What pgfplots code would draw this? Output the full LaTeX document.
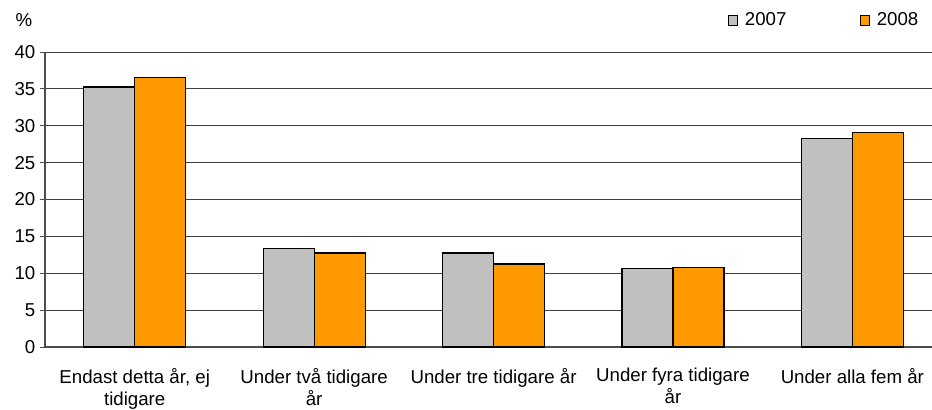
\documentclass[border=0pt]{standalone}
\usepackage{pgfplots}
\pgfplotsset{compat=1.18}
\usepackage{fontspec}
\setmainfont{Liberation Sans}
\definecolor{cgray}{RGB}{192,192,192}
\definecolor{corange}{RGB}{255,153,0}
\begin{document}
\begin{tikzpicture}[x=0.75pt,y=0.75pt]
\path[use as bounding box] (0,0) rectangle (932,410);
\begin{axis}[
  at={(45*0.75pt,63*0.75pt)}, anchor=south west,
  scale only axis, width=887*0.75pt, height=295*0.75pt,
  xmin=-0.5, xmax=4.444, ymin=0, ymax=40,
  axis x line*=bottom, axis y line*=left,
  axis line style={black!70, line width=0.8pt},
  ytick={0,5,...,40},
  ymajorgrids, grid style={black!75, line width=0.6pt},
  tick align=outside, major tick length=5*0.75pt,
  tick style={black!70, line width=0.6pt},
  xtick={0,...,4}, xticklabels={{Endast detta år, ej\\tidigare},{Under två tidigare\\år},{Under tre tidigare år},{Under fyra tidigare\\år},{Under alla fem år}},
  x tick style={draw=none},
  extra x ticks={0.5,1.5,2.5,3.5}, extra x tick labels={},
  extra x tick style={tick style={draw=black!70, line width=0.6pt}, grid=none},
  xticklabel style={align=center, font=\fontsize{14}{16.5}\selectfont, yshift=-8.5pt},
  yticklabel style={font=\fontsize{14}{16}\selectfont},
  /pgf/number format/assume math mode=true,
  ybar, bar width=51*0.75pt,
  legend columns=2,
  legend style={draw=none, fill=none, at={(0.765,1.108)}, anchor=west, font=\fontsize{14}{16}\selectfont,
    /tikz/every odd column/.append style={column sep=3pt},
    /tikz/every even column/.append style={column sep=53pt}},
  legend image code/.code={\draw[#1, line width=0.6pt] (0pt,-3.6pt) rectangle (7.2pt,3.6pt);},
  clip=false,
]
\addplot[fill=cgray, draw=black, line width=0.9pt, bar shift=-25.5*0.75pt] coordinates {(0,35.25) (1,13.4) (2,12.75) (3,10.6) (4,28.3)};
\addplot[fill=corange, draw=black, line width=0.9pt, bar shift=25.5*0.75pt] coordinates {(0,36.5) (1,12.75) (2,11.25) (3,10.8) (4,29.1)};
\legend{2007,2008}
\end{axis}
\node[font=\fontsize{14}{16}\selectfont] at (24,390) {\%};
\end{tikzpicture}
\end{document}
